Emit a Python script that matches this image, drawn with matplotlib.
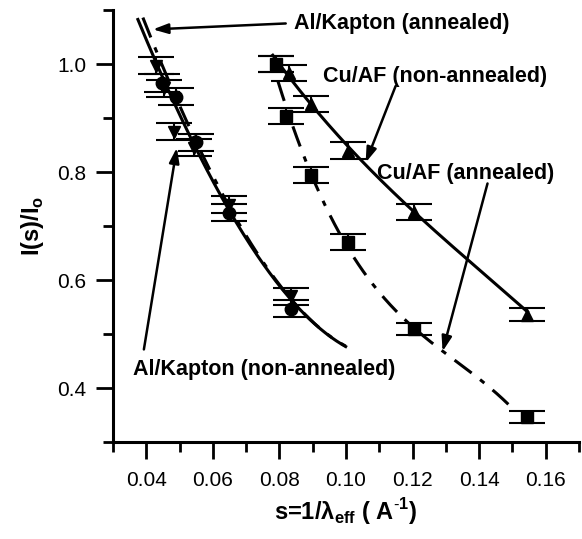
import numpy as np
import matplotlib
matplotlib.use('Agg')
import matplotlib.pyplot as plt
from matplotlib.ticker import MultipleLocator

plt.rcParams['font.family'] = ['Liberation Sans', 'DejaVu Sans']
plt.rcParams['mathtext.fontset'] = 'custom'
plt.rcParams['mathtext.rm'] = 'Liberation Sans'
plt.rcParams['mathtext.bf'] = 'Liberation Sans:bold'

# Al/Kapton, annealed (down triangles, dash-dot fit)
ak_ann_x = [0.0429, 0.0452, 0.0483, 0.0543, 0.0648, 0.0834]
ak_ann_y = [0.997, 0.955, 0.875, 0.845, 0.740, 0.570]
ak_ann_err = [0.016, 0.016, 0.016, 0.016, 0.016, 0.016]

# Al/Kapton, non-annealed (circles, solid fit)
ak_non_x = [0.0446, 0.0489, 0.0549, 0.0648, 0.0834]
ak_non_y = [0.965, 0.940, 0.855, 0.725, 0.547]
ak_non_err = [0.016, 0.016, 0.016, 0.016, 0.016]

# Cu/AF, annealed (squares, dash-dot fit)
cu_ann_x = [0.0790, 0.0819, 0.0894, 0.1005, 0.1203, 0.1545]
cu_ann_y = [1.000, 0.904, 0.794, 0.670, 0.510, 0.346]
cu_ann_err = [0.015, 0.015, 0.015, 0.015, 0.011, 0.011]

# Cu/AF, non-annealed (up triangles, solid fit)
cu_non_x = [0.0790, 0.0828, 0.0894, 0.1005, 0.1203, 0.1545]
cu_non_y = [1.000, 0.983, 0.926, 0.840, 0.726, 0.536]
cu_non_err = [0.015, 0.015, 0.015, 0.015, 0.015, 0.012]

# fitted curves, read along their path in the picture
ak_non_curve_x = [0.0375, 0.0444, 0.0549, 0.0648, 0.0834, 0.0999]
ak_non_curve_y = [1.085, 0.978, 0.849, 0.729, 0.564, 0.477]
ak_ann_curve_x = [0.0390, 0.0458, 0.0558, 0.0654, 0.0834, 0.0999]
ak_ann_curve_y = [1.085, 0.985, 0.849, 0.726, 0.568, 0.477]
cu_non_curve_x = [0.0780, 0.0894, 0.1005, 0.1203, 0.1374, 0.1545]
cu_non_curve_y = [1.015, 0.932, 0.843, 0.729, 0.633, 0.541]
cu_ann_curve_x = [0.0795, 0.0819, 0.0894, 0.1005, 0.1104, 0.1290, 0.1503]
cu_ann_curve_y = [0.987, 0.904, 0.794, 0.670, 0.573, 0.466, 0.361]


def smooth(cx, cy, deg=3):
    c = np.polyfit(cx, cy, deg)
    xs = np.linspace(min(cx), max(cx), 200)
    return xs, np.polyval(c, xs)


fig, ax = plt.subplots(figsize=(5.82, 5.39), dpi=100)
fig.subplots_adjust(left=0.194, right=0.995, bottom=0.18, top=0.981)

dashdot = (0, (7, 3.5, 1.8, 3.5))
for cx, cy, ls in [(ak_ann_curve_x, ak_ann_curve_y, dashdot),
                   (ak_non_curve_x, ak_non_curve_y, '-'),
                   (cu_ann_curve_x, cu_ann_curve_y, dashdot),
                   (cu_non_curve_x, cu_non_curve_y, '-')]:
    xs, ys = smooth(cx, cy)
    ax.plot(xs, ys, color='black', lw=2.2, ls=ls, zorder=2)

for x, y, e, m in [(ak_ann_x, ak_ann_y, ak_ann_err, 'v'),
                   (ak_non_x, ak_non_y, ak_non_err, 'o'),
                   (cu_ann_x, cu_ann_y, cu_ann_err, 's'),
                   (cu_non_x, cu_non_y, cu_non_err, '^')]:
    ax.errorbar(x, y, yerr=e, fmt=m, color='black', ms=9 if m != 's' else 8,
                elinewidth=1.5, capsize=13, capthick=1.5, zorder=3)

ax.set_xlim(0.03, 0.17)
ax.set_ylim(0.3, 1.1)
ax.xaxis.set_minor_locator(MultipleLocator(0.01))
ax.yaxis.set_minor_locator(MultipleLocator(0.1))
ax.set_xticks([0.04, 0.06, 0.08, 0.10, 0.12, 0.14, 0.16])
ax.set_xticklabels(['0.04', '0.06', '0.08', '0.10', '0.12', '0.14', '0.16'])
ax.set_yticks([0.4, 0.6, 0.8, 1.0])
ax.set_yticklabels(['0.4', '0.6', '0.8', '1.0'])

for s in ['top', 'right']:
    ax.spines[s].set_visible(False)
for s in ['left', 'bottom']:
    ax.spines[s].set_linewidth(2.2)
ax.tick_params(which='major', length=12, width=2, labelsize=15)
ax.tick_params(axis='x', which='major', pad=9)
ax.tick_params(axis='y', which='major', pad=7)
ax.tick_params(which='minor', length=7, width=2)

ax.set_xlabel(r's=1/λ$_{\mathbf{eff}}$ ( A$^{\mathbf{\text{-}1}}$)',
              fontsize=17, fontweight='bold', labelpad=4)
ax.set_ylabel(r'I(s)/I$_{\mathbf{o}}$', fontsize=17, fontweight='bold', labelpad=8)

arrow = dict(arrowstyle='-|>,head_length=0.9,head_width=0.3', color='black', lw=1.8,
             shrinkA=0, shrinkB=0)
txt = dict(fontsize=15.5, fontweight='bold', va='center')

ax.annotate('', xy=(0.0420, 1.0645), xytext=(0.0819, 1.0755), arrowprops=arrow)
ax.text(0.0843, 1.0755, 'Al/Kapton (annealed)', ha='left', **txt)

ax.annotate('', xy=(0.0492, 0.8453), xytext=(0.0393, 0.4715), arrowprops=arrow)
ax.text(0.0360, 0.4346, 'Al/Kapton (non-annealed)', ha='left', **txt)

ax.annotate('', xy=(0.1059, 0.8177), xytext=(0.1149, 0.9595), arrowprops=arrow)
ax.text(0.0930, 0.9780, 'Cu/AF (non-annealed)', ha='left', **txt)

ax.annotate('', xy=(0.1290, 0.4678), xytext=(0.1425, 0.7790), arrowprops=arrow)
ax.text(0.1092, 0.7974, 'Cu/AF (annealed)', ha='left', **txt)

plt.savefig('out.png', dpi=100)
